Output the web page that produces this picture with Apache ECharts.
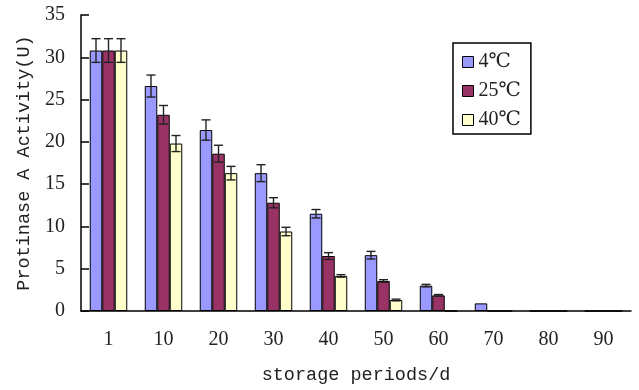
<!DOCTYPE html>
<html>
<head>
<meta charset="UTF-8">
<script src="https://cdn.jsdelivr.net/npm/echarts@6/dist/echarts.min.js"></script>
<style>
  html, body { margin: 0; padding: 0; background: #fff; }
  #chart { width: 639px; height: 390px; }
</style>
</head>
<body>
<div id="chart"></div>
<script>
// storage period categories (days)
const periods = ['1', '10', '20', '30', '40', '50', '60', '70', '80', '90'];
const yTicks = [0, 5, 10, 15, 20, 25, 30, 35];

// mean activity (U) per storage temperature
const act4 = [30.8, 26.6, 21.4, 16.3, 11.5, 6.6, 3.0, 0.9, 0, 0];
const act25 = [30.8, 23.2, 18.6, 12.8, 6.5, 3.55, 1.85, 0, 0, 0];
const act40 = [30.8, 19.8, 16.3, 9.4, 4.15, 1.3, 0, 0, 0, 0];

// standard deviations
const err4 = [1.4, 1.3, 1.2, 1.0, 0.5, 0.45, 0.15, 0, 0, 0];
const err25 = [1.4, 1.1, 1.0, 0.6, 0.4, 0.15, 0.1, 0, 0, 0];
const err40 = [1.4, 0.95, 0.8, 0.5, 0.15, 0.1, 0, 0, 0, 0];

const names = ['4℃', '25℃', '40℃'];
const colors = ['#9999ff', '#993366', '#ffffcc'];
const BAR_W = 12.5;
const SERIF = '"Liberation Serif", "DejaVu Serif", "Noto Sans CJK SC", serif';
const MONO = '"Liberation Mono", "DejaVu Sans Mono", monospace';

const acts = [act4, act25, act40];
const errs = [err4, err25, err40];

function errorSeries(k) {
  return {
    type: 'custom',
    z: 5,
    silent: true,
    data: acts[k].map((v, i) => [i, v, errs[k][i]]),
    encode: { x: 0, y: 1 },
    renderItem: function (params, api) {
      const i = api.value(0), v = api.value(1), e = api.value(2);
      if (!e) return null;
      const c = api.coord([i, v]);
      const x = c[0] + (k - 1) * BAR_W;
      const top = api.coord([i, v + e])[1];
      const bot = api.coord([i, v - e])[1];
      const hw = 4.5;
      const style = { stroke: '#222', lineWidth: 1.4 };
      return {
        type: 'group',
        children: [
          { type: 'line', shape: { x1: x, y1: top, x2: x, y2: bot }, style: style },
          { type: 'line', shape: { x1: x - hw, y1: top, x2: x + hw, y2: top }, style: style },
          { type: 'line', shape: { x1: x - hw, y1: bot, x2: x + hw, y2: bot }, style: style }
        ]
      };
    }
  };
}

const chart = echarts.init(document.getElementById('chart'), null, { renderer: 'canvas' });

chart.setOption({
  animation: false,
  backgroundColor: '#fff',
  grid: { left: 81, right: 8, top: 15, bottom: 77 },
  legend: {
    data: names,
    orient: 'vertical',
    left: 453,
    top: 43,
    padding: [9, 10, 4, 9],
    itemGap: 9,
    itemWidth: 11,
    itemHeight: 11,
    icon: 'rect',
    borderColor: '#000',
    borderWidth: 1.5,
    itemStyle: { borderColor: '#000', borderWidth: 1 },
    textStyle: { fontFamily: SERIF, fontSize: 20, color: '#222', lineHeight: 18 }
  },
  xAxis: {
    type: 'category',
    data: periods,
    boundaryGap: true,
    name: 'storage periods/d',
    nameLocation: 'middle',
    nameGap: 55,
    nameTextStyle: { fontFamily: MONO, fontSize: 18.5, color: '#222' },
    axisLine: { lineStyle: { color: '#000', width: 1.5 } },
    axisTick: { inside: true, length: 6, lineStyle: { color: '#000', width: 1.5 } },
    axisLabel: { margin: 19, fontFamily: SERIF, fontSize: 20, color: '#222' },
    splitLine: { show: false }
  },
  yAxis: {
    type: 'value',
    min: yTicks[0],
    max: yTicks[yTicks.length - 1],
    interval: 5,
    name: 'Protinase A Activity(U)',
    nameLocation: 'middle',
    nameRotate: 90,
    nameGap: 46,
    nameTextStyle: { fontFamily: MONO, fontSize: 18.5, color: '#222' },
    axisLine: { show: true, lineStyle: { color: '#000', width: 1.5 } },
    axisTick: { show: true, inside: true, length: 8, lineStyle: { color: '#000', width: 1.5 } },
    axisLabel: { margin: 16, fontFamily: SERIF, fontSize: 20, color: '#222' },
    splitLine: { show: false }
  },
  series: names.map((n, k) => ({
    name: n,
    type: 'bar',
    data: acts[k],
    barWidth: BAR_W,
    barGap: '0%',
    itemStyle: { color: colors[k], borderColor: '#000', borderWidth: 1 }
  })).concat([0, 1, 2].map(errorSeries))
});
</script>
</body>
</html>
